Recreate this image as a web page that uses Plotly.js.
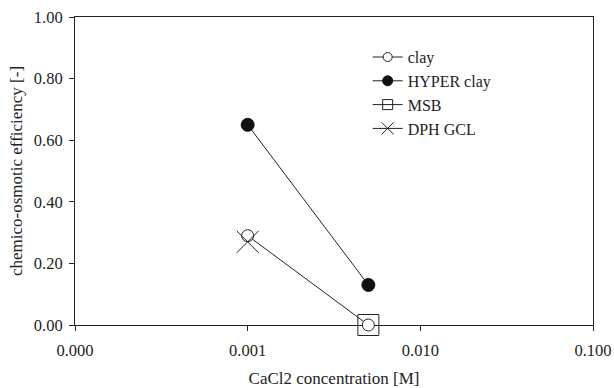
<!DOCTYPE html>
<html><head><meta charset="utf-8">
<script src="https://cdn.plot.ly/plotly-3.0.1.min.js"></script>
<style>body{margin:0;background:#fff}#c{width:614px;height:388px}</style>
</head><body><div id="c"></div>
<script>
const clayX = [0.001, 0.005];
const clayY = [0.29, 0.0];
const hyperX = [0.001, 0.005];
const hyperY = [0.65, 0.13];
const msbX = [0.005];
const msbY = [0.0];
const dphX = [0.001];
const dphY = [0.27];
const seriesNames = ["clay", "HYPER clay", "MSB", "DPH GCL"];
const xTickVals = [0.0001, 0.001, 0.01, 0.1];
const xTickText = ["0.000", "0.001", "0.010", "0.100"];
const yTickVals = [0, 0.2, 0.4, 0.6, 0.8, 1.0];

const fam = "Liberation Serif";
const f = (s) => ({family: fam, size: s, color: "#222"});
const ln = {color: "#222", width: 1};
const mk = {
  clay:  {symbol: "circle", color: "#fff", line: {color: "#222", width: 1}},
  hyper: {symbol: "circle", color: "#111", line: {color: "#111", width: 1}},
  msb:   {symbol: "square-open", color: "#222", line: {color: "#222", width: 1}},
  dph:   {symbol: "x-thin-open", color: "#222", line: {color: "#222", width: 1}}
};
const sz = (m, s) => Object.assign({size: s}, m);
const traces = [
  {x: clayX, y: clayY, name: seriesNames[0], mode: "lines+markers", cliponaxis: false, showlegend: false, line: ln, marker: sz(mk.clay, 12)},
  {x: hyperX, y: hyperY, name: seriesNames[1], mode: "lines+markers", cliponaxis: false, showlegend: false, line: ln, marker: sz(mk.hyper, 13)},
  {x: msbX, y: msbY, name: seriesNames[2], mode: "lines+markers", cliponaxis: false, showlegend: false, line: ln, marker: sz(mk.msb, 21)},
  {x: dphX, y: dphY, name: seriesNames[3], mode: "lines+markers", cliponaxis: false, showlegend: false, line: ln, marker: sz(mk.dph, 22)},
  {x: [null], y: [null], name: seriesNames[0], mode: "lines+markers", line: ln, marker: sz(mk.clay, 9)},
  {x: [null], y: [null], name: seriesNames[1], mode: "lines+markers", line: ln, marker: sz(mk.hyper, 10)},
  {x: [null], y: [null], name: seriesNames[2], mode: "lines+markers", line: ln, marker: sz(mk.msb, 10)},
  {x: [null], y: [null], name: seriesNames[3], mode: "lines+markers", line: ln, marker: sz(mk.dph, 12)}
];
const layout = {
  width: 614, height: 388,
  margin: {l: 75, r: 21, t: 17, b: 63},
  paper_bgcolor: "#fff", plot_bgcolor: "#fff",
  font: f(17),
  showlegend: true,
  legend: {x: 0.565, y: 0.925, xanchor: "left", yanchor: "top", bgcolor: "rgba(0,0,0,0)",
           font: f(16), tracegroupgap: 0, itemwidth: 30},
  xaxis: {type: "log", range: [-4, -1], tickvals: xTickVals, ticktext: xTickText,
          ticks: "outside", ticklen: 5, tickcolor: "#222", showgrid: false, zeroline: false,
          showline: true, linecolor: "#222", linewidth: 1, mirror: true, layer: "below traces",
          tickfont: f(16.5), ticklabelstandoff: 5,
          title: {text: "CaCl2 concentration [M]", font: f(17), standoff: 15}},
  yaxis: {range: [0, 1], tickvals: yTickVals, tickformat: ".2f",
          ticks: "outside", ticklen: 5, tickcolor: "#222", showgrid: false, zeroline: false,
          showline: true, linecolor: "#222", linewidth: 1, mirror: true, layer: "below traces",
          tickfont: f(16.5), ticklabelstandoff: 3,
          title: {text: "chemico-osmotic efficiency [-]", font: f(17), standoff: 6}}
};
Plotly.newPlot("c", traces, layout, {displayModeBar: false, staticPlot: true});
</script></body></html>
